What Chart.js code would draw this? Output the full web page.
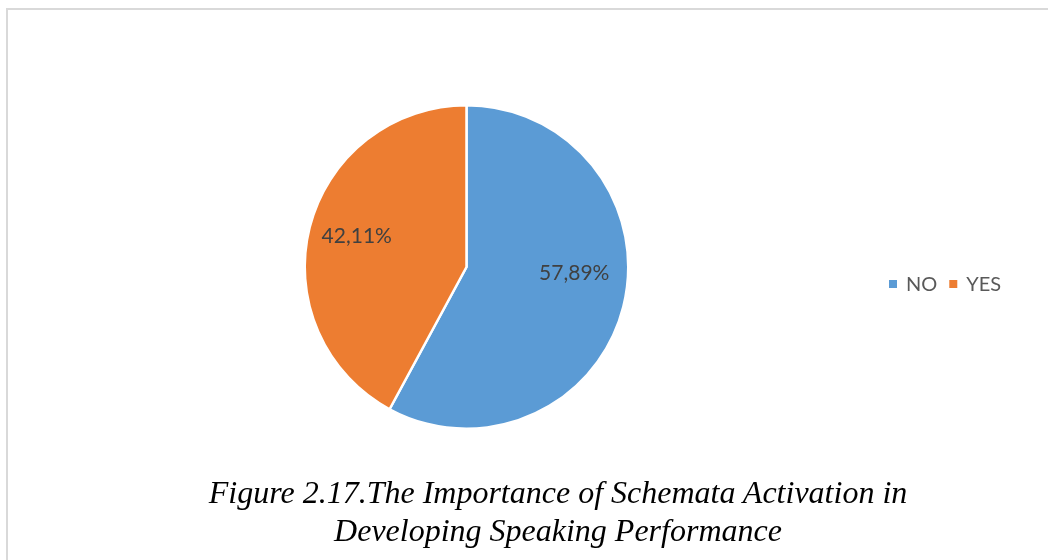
<!DOCTYPE html>
<html><head><meta charset="utf-8">
<script src="https://cdn.jsdelivr.net/npm/chart.js@4/dist/chart.umd.min.js"></script>
<style>
html,body{margin:0;padding:0;background:#fff;width:1048px;height:560px;overflow:hidden;}
#frame{position:absolute;left:6px;top:8px;width:1100px;height:600px;border:2px solid #d9d9d9;box-sizing:border-box;}
#wrap{position:absolute;left:0;top:0;width:1048px;height:560px;}
#caption{position:absolute;left:68px;width:980px;top:473px;text-align:center;font:italic 32px/38px 'Liberation Serif','Times New Roman',serif;color:#000;white-space:nowrap;}
</style></head>
<body>
<div id="frame"></div>
<div id="wrap"><canvas id="c" width="1048" height="560"></canvas></div>
<div id="caption">Figure 2.17.The Importance of Schemata Activation in<br>Developing Speaking Performance</div>
<script>
const categories = ['NO', 'YES'];
const percentages = [57.89, 42.11];
const sliceColors = ['#5B9BD5', '#ED7D31'];

const pieLabels = {
  id: 'pieLabels',
  afterDatasetsDraw(chart, args, opts) {
    const ctx = chart.ctx;
    const meta = chart.getDatasetMeta(0);
    ctx.save();
    ctx.font = opts.font;
    ctx.fillStyle = opts.color;
    ctx.textAlign = 'center';
    ctx.textBaseline = 'middle';
    meta.data.forEach((arc, i) => {
      const p = arc.getProps(['x','y','startAngle','endAngle','outerRadius'], true);
      const mid = (p.startAngle + p.endAngle) / 2;
      const r = p.outerRadius * opts.radiusFrac;
      const off = opts.offsets[i] || [0,0];
      const v = chart.data.datasets[0].data[i];
      const txt = v.toFixed(2).replace('.', ',') + '%';
      ctx.fillText(txt, p.x + Math.cos(mid) * r + off[0], p.y + Math.sin(mid) * r + off[1]);
    });
    ctx.restore();
  }
};

const rowLegend = {
  id: 'rowLegend',
  afterDraw(chart, args, opts) {
    const ctx = chart.ctx;
    ctx.save();
    ctx.font = opts.font;
    ctx.textBaseline = 'middle';
    ctx.textAlign = 'left';
    let x = opts.x;
    const y = opts.y;
    chart.data.labels.forEach((lab, i) => {
      ctx.fillStyle = chart.data.datasets[0].backgroundColor[i];
      ctx.fillRect(x, y - opts.box / 2, opts.box, opts.box);
      x += opts.box + opts.gap;
      ctx.fillStyle = opts.color;
      ctx.fillText(lab, x, y + 1);
      x += ctx.measureText(lab).width + opts.itemGap;
    });
    ctx.restore();
  }
};

new Chart(document.getElementById('c'), {
  type: 'pie',
  data: {
    labels: categories,
    datasets: [{
      data: percentages,
      backgroundColor: sliceColors,
      borderColor: '#ffffff',
      borderWidth: 2.5
    }]
  },
  options: {
    responsive: false,
    animation: false,
    layout: { padding: { left: 303.5, right: 418.5, top: 104, bottom: 130 } },
    plugins: {
      legend: { display: false },
      tooltip: { enabled: false },
      title: { display: false },
      pieLabels: { font: '21px Lato', color: '#404040', radiusFrac: 0.70, offsets: [[-2, -22], [0, -3]] },
      rowLegend: { font: '20px Lato', color: '#595959', x: 889, y: 284, box: 8, gap: 9, itemGap: 12 }
    }
  },
  plugins: [pieLabels, rowLegend]
});
</script>
</body></html>
